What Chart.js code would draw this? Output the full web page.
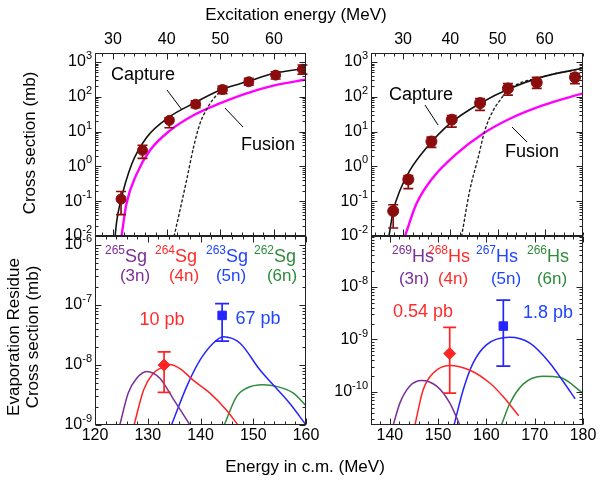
<!DOCTYPE html>
<html>
<head>
<meta charset="utf-8">
<script src="https://cdn.jsdelivr.net/npm/chart.js@4/dist/chart.umd.min.js"></script>
<style>
html,body{margin:0;padding:0;background:#fff;}
#wrap{position:relative;width:601px;height:480px;overflow:hidden;background:#fff;}
#wrap canvas{position:absolute;left:0;top:0;}
</style>
</head>
<body>
<div id="wrap">
<canvas id="cTL" width="601" height="480"></canvas>
<canvas id="cTR" width="601" height="480"></canvas>
<canvas id="cBL" width="601" height="480"></canvas>
<canvas id="cBR" width="601" height="480"></canvas>
</div>
<script>
// ================= DATA =================
// --- Top-left panel (Sg system): excitation energy (MeV) vs cross section (mb)
const sgExpEx    = [31.5, 35.5, 40.5, 45.4, 50.4, 55.3, 60.3, 65.3];
const sgExpSigma = [0.115, 2.9, 21, 61, 162, 270, 420, 620];
const sgExpLow   = [0.041, 1.7, 12.9, 49, 124, 218, 325, 450];
const sgExpHigh  = [0.19, 4.0, 25, 76, 204, 340, 525, 820];

const sgCaptureEx    = [30.4, 30.7, 31.3, 33.5, 36.3, 40.5, 45.0, 49.9, 54.9, 59.9, 66.1];
const sgCaptureSigma = [0.01, 0.027, 0.083, 1.17, 6.9, 26.3, 64.6, 155, 269, 468, 661];
const sgFusionEx     = [31.6, 32.5, 34.4, 36.9, 40.6, 45.0, 49.9, 54.9, 59.9, 66.1];
const sgFusionSigma  = [0.01, 0.083, 0.60, 2.9, 10.7, 29.5, 64.6, 126, 209, 316];
const sgDottedEx     = [41.4, 43.7, 45.0, 46.2, 47.7, 49.3, 50.4];
const sgDottedSigma  = [0.01, 0.39, 3.5, 17, 51, 112, 158];

// --- Top-right panel (Hs system)
const hsExpEx    = [27.9, 31.1, 36.0, 40.3, 46.3, 52.2, 58.3, 66.4];
const hsExpSigma = [0.052, 0.42, 5.2, 22, 66, 174, 257, 363];
const hsExpLow   = [0.017, 0.23, 3.5, 13.5, 41, 112, 174, 240];
const hsExpHigh  = [0.079, 0.54, 6.9, 29, 89, 240, 363, 468];

const hsCaptureEx    = [27.0, 27.9, 29.3, 31.4, 35.0, 39.9, 46.3, 52.6, 59.7, 68.1];
const hsCaptureSigma = [0.01, 0.052, 0.20, 0.76, 3.5, 17, 65, 174, 380, 661];
const hsFusionEx     = [30.4, 32.8, 36.4, 41.3, 46.9, 52.6, 59.7, 68.1];
const hsFusionSigma  = [0.01, 0.083, 0.49, 2.3, 8.7, 23.4, 57.5, 126];
const hsDottedEx     = [42.4, 44.1, 45.9, 47.3, 49.1, 50.5, 52.2, 59.7, 68.1];
const hsDottedSigma  = [0.01, 0.20, 1.8, 10.7, 41, 79, 155, 380, 661];

// --- Bottom-left panel: evaporation residue cross sections (mb) vs Ecm (MeV)
const sg3nE = [124.7, 126.3, 127.9, 129.8, 132.3, 134.8, 138.0];
const sg3nSigma = [1e-9, 3.4e-9, 6.0e-9, 7.8e-9, 6.0e-9, 2.75e-9, 1e-9];
const sg4nE = [127.4, 129.2, 131.0, 132.9, 134.2, 136.1, 138.6, 141.8, 144.9, 147.1];
const sg4nSigma = [1e-9, 3.8e-9, 7.2e-9, 9.3e-9, 1.02e-8, 8.7e-9, 5.6e-9, 3.4e-9, 1.78e-9, 1e-9];
const sg5nE = [134.5, 137.4, 139.9, 142.4, 144.3, 147.5, 151.25, 156.9, 160];
const sg5nSigma = [1e-9, 4.4e-9, 1.2e-8, 2.3e-8, 2.95e-8, 2.3e-8, 8.3e-9, 2.3e-9, 1e-9];
const sg6nE = [144.5, 146.8, 148.7, 151.9, 154.4, 157.6, 160];
const sg6nSigma = [1e-9, 2.95e-9, 4.1e-9, 4.7e-9, 4.4e-9, 3.4e-9, 2.1e-9];
const sg4nExpE = [133.1], sg4nExpSigma = [1.0e-8], sg4nExpLow = [3.5e-9], sg4nExpHigh = [1.66e-8];
const sg5nExpE = [144.1], sg5nExpSigma = [6.7e-8], sg5nExpLow = [2.5e-8], sg5nExpHigh = [1.05e-7];

// --- Bottom-right panel
const hs3nE = [140.7, 142.1, 144.1, 146.6, 149.7, 152.4, 154.5];
const hs3nSigma = [2.35e-11, 6.2e-11, 1.29e-10, 1.66e-10, 1.29e-10, 6.2e-11, 2.35e-11];
const hs4nE = [145.2, 146.9, 149.0, 152.4, 156.6, 160.7, 163.5, 166.6];
const hs4nSigma = [2.35e-11, 1.1e-10, 2.3e-10, 3.2e-10, 2.6e-10, 1.48e-10, 8.1e-11, 3.6e-11];
const hs5nE = [153.3, 155.2, 157.2, 160.0, 164.8, 169.0, 173.2, 175.9, 178.3];
const hs5nSigma = [2.35e-11, 1.1e-10, 3.5e-10, 7.9e-10, 1.1e-9, 8.5e-10, 3.5e-10, 1.58e-10, 7.6e-11];
const hs6nE = [163.1, 164.8, 167.6, 171.7, 175.2, 180];
const hs6nSigma = [2.35e-11, 5.9e-11, 1.41e-10, 2.0e-10, 1.9e-10, 9.5e-11];
const hs4nExpE = [152.4], hs4nExpSigma = [5.4e-10], hs4nExpLow = [9.5e-11], hs4nExpHigh = [1.7e-9];
const hs5nExpE = [163.5], hs5nExpSigma = [1.8e-9], hs5nExpLow = [3.1e-10], hs5nExpHigh = [5.6e-9];

// --- Tick labels
const exTicks = [30, 40, 50, 60];
const sgEcmTicks = [120, 130, 140, 150, 160];
const hsEcmTicks = [140, 150, 160, 170, 180];
const topDecades = [3, 2, 1, 0, -1, -2];
const sgErDecades = [-6, -7, -8, -9];
const hsErDecades = [-8, -9, -10];

// ================= DRAWING =================
const FONT = '"Liberation Sans", Arial, Helvetica, sans-serif';
const C = {
  pts: '#8a0c0c', magenta: '#ff00ff', black: '#111',
  purple: '#7a2f96', red: '#ff2424', blue: '#2424ff', green: '#2e8b3c',
  redTxt: '#ff2a2a', blueTxt: '#1f45ff'
};

function xy(xs, ys) { return xs.map((x, i) => ({x: x, y: ys[i]})); }
function curve(xs, ys, color, width, dash) {
  return {data: xy(xs, ys), borderColor: color, borderWidth: width, borderDash: dash || [],
    pointRadius: 0, showLine: true, fill: false, cubicInterpolationMode: 'monotone'};
}
function expPts(xs, ys, lo, hi, color, style, r, cap) {
  return {data: xy(xs, ys), showLine: false, pointRadius: r, pointStyle: style,
    backgroundColor: color, borderColor: color, borderWidth: 1,
    errLow: lo, errHigh: hi, errColor: color, errCap: cap};
}

function drawPow(ctx, exp, xr, yc) {
  ctx.save();
  ctx.fillStyle = '#000';
  ctx.textBaseline = 'middle';
  ctx.textAlign = 'left';
  ctx.font = '16px ' + FONT;
  const w1 = ctx.measureText('10').width;
  ctx.font = '11px ' + FONT;
  const es = String(exp);
  const w2 = ctx.measureText(es).width;
  const x0 = xr - w1 - w2;
  ctx.font = '16px ' + FONT;
  ctx.fillText('10', x0, yc);
  ctx.font = '11px ' + FONT;
  ctx.fillText(es, x0 + w1, yc - 6);
  ctx.restore();
}
function drawIso(ctx, mass, sym, cx, cy, color) {
  ctx.save();
  ctx.fillStyle = color;
  ctx.textBaseline = 'middle';
  ctx.textAlign = 'left';
  ctx.font = '12px ' + FONT;
  const wm = ctx.measureText(mass).width;
  ctx.font = '18px ' + FONT;
  const ws = ctx.measureText(sym).width;
  const x0 = cx - (wm + ws) / 2;
  ctx.font = '12px ' + FONT;
  ctx.fillText(mass, x0, cy - 6);
  ctx.font = '18px ' + FONT;
  ctx.fillText(sym, x0 + wm, cy);
  ctx.restore();
}
function text(ctx, s, x, y, color, size, rot) {
  ctx.save();
  ctx.fillStyle = color;
  ctx.font = size + 'px ' + FONT;
  ctx.textAlign = 'center';
  ctx.textBaseline = 'middle';
  ctx.translate(x, y);
  if (rot) ctx.rotate(rot);
  ctx.fillText(s, 0, 0);
  ctx.restore();
}
function seg(ctx, x1, y1, x2, y2) {
  ctx.save();
  ctx.strokeStyle = '#000'; ctx.lineWidth = 1;
  ctx.beginPath(); ctx.moveTo(x1, y1); ctx.lineTo(x2, y2); ctx.stroke();
  ctx.restore();
}

const errorBarPlugin = {
  id: 'errbars',
  beforeDatasetDraw(chart, args) {
    const ds = chart.data.datasets[args.index];
    if (!ds.errLow) return;
    const ctx = chart.ctx, x = chart.scales.x, y = chart.scales.y;
    const cap = ds.errCap;
    ctx.save();
    ctx.strokeStyle = ds.errColor; ctx.lineWidth = 1.7;
    ds.data.forEach((p, i) => {
      const px = x.getPixelForValue(p.x);
      const y1 = y.getPixelForValue(ds.errHigh[i]);
      const y2 = y.getPixelForValue(ds.errLow[i]);
      ctx.beginPath();
      ctx.moveTo(px, y1); ctx.lineTo(px, y2);
      ctx.moveTo(px - cap / 2, y1); ctx.lineTo(px + cap / 2, y1);
      ctx.moveTo(px - cap / 2, y2); ctx.lineTo(px + cap / 2, y2);
      ctx.stroke();
    });
    ctx.restore();
  }
};

function makeDecor(cfg) {
  return {
    id: 'decor',
    afterDraw(chart) {
      const ctx = chart.ctx, a = chart.chartArea;
      const x = chart.scales.x, y = chart.scales.y;
      const L = Math.round(a.left) + 0.5, R = Math.round(a.right) - 0.5;
      const T = Math.round(a.top) + 0.5, B = Math.round(a.bottom) - 0.5;
      ctx.save();
      ctx.strokeStyle = '#222'; ctx.lineWidth = 1;
      ctx.beginPath();
      for (let v = Math.ceil(x.min / cfg.xMinor) * cfg.xMinor; v <= x.max + 1e-9; v += cfg.xMinor) {
        const px = Math.round(x.getPixelForValue(v)) + 0.5;
        const major = Math.abs(v / cfg.xMajor - Math.round(v / cfg.xMajor)) < 1e-6;
        const len = major ? 6 : 3;
        ctx.moveTo(px, T); ctx.lineTo(px, T + len);
        ctx.moveTo(px, B); ctx.lineTo(px, B - len);
      }
      const lmin = Math.floor(Math.log10(y.min)), lmax = Math.ceil(Math.log10(y.max));
      for (let d = lmin; d <= lmax; d++) {
        for (let m = 1; m <= 9; m++) {
          const v = m * Math.pow(10, d);
          if (v < y.min * 0.999 || v > y.max * 1.001) continue;
          const py = Math.round(y.getPixelForValue(v)) + 0.5;
          const len = m === 1 ? 6 : 3;
          ctx.moveTo(L, py); ctx.lineTo(L + len, py);
          ctx.moveTo(R, py); ctx.lineTo(R - len, py);
        }
      }
      ctx.stroke();
      ctx.strokeRect(L, T, R - L, B - T);
      ctx.restore();
      // x tick labels
      cfg.xTicks.forEach(v => text(ctx, String(v), x.getPixelForValue(v), cfg.xLabelY, '#000', 16));
      // y tick labels
      cfg.yDecades.forEach(d => {
        const py = y.getPixelForValue(Math.pow(10, d));
        if (py < a.top + 5 || py > a.bottom + 1) return;
        drawPow(ctx, d, a.left - 3, py);
      });
      if (cfg.extra) cfg.extra(ctx, chart);
    }
  };
}

function makePanel(id, box, xr, yr, datasets, decorCfg) {
  return new Chart(document.getElementById(id), {
    type: 'scatter',
    data: {datasets: datasets},
    options: {
      responsive: false, animation: false, devicePixelRatio: 1,
      layout: {padding: {left: box[0], top: box[1], right: 601 - box[2], bottom: 480 - box[3]}},
      plugins: {legend: {display: false}, tooltip: {enabled: false}, title: {display: false}},
      scales: {
        x: {type: 'linear', display: false, min: xr[0], max: xr[1]},
        y: {type: 'logarithmic', display: false, min: yr[0], max: yr[1]}
      },
      elements: {line: {borderCapStyle: 'round'}}
    },
    plugins: [errorBarPlugin, makeDecor(decorCfg)]
  });
}

// ---------- Top-left ----------
makePanel('cTL', [95, 53, 306, 236], [26.65, 65.96], [0.01, 1815], [
  expPts(sgExpEx, sgExpSigma, sgExpLow, sgExpHigh, C.pts, 'circle', 5, 10),
  curve(sgCaptureEx, sgCaptureSigma, C.black, 1.6),
  curve(sgDottedEx, sgDottedSigma, '#222', 1.4, [2, 3]),
  curve(sgFusionEx, sgFusionSigma, C.magenta, 2.4)
], {
  xMajor: 10, xMinor: 2, xTicks: exTicks, xLabelY: 40, yDecades: topDecades,
  extra(ctx) {
    text(ctx, 'Excitation energy (MeV)', 296, 15, '#000', 17);
    text(ctx, 'Energy in c.m. (MeV)', 305, 467, '#000', 17);
    text(ctx, 'Cross section (mb)', 30, 143, '#000', 17, -Math.PI / 2);
    text(ctx, 'Evaporation Residue', 14, 337, '#000', 17, -Math.PI / 2);
    text(ctx, 'Cross section (mb)', 33, 337, '#000', 17, -Math.PI / 2);
    text(ctx, 'Capture', 143, 75, '#000', 18);
    seg(ctx, 167, 90, 182, 110);
    text(ctx, 'Fusion', 268, 145, '#000', 18);
    seg(ctx, 225, 108, 243, 127);
  }
});

// ---------- Top-right ----------
makePanel('cTR', [371, 53, 583, 236], [23.2, 68.1], [0.01, 1815], [
  expPts(hsExpEx, hsExpSigma, hsExpLow, hsExpHigh, C.pts, 'circle', 5.5, 10),
  curve(hsCaptureEx, hsCaptureSigma, C.black, 1.6),
  curve(hsDottedEx, hsDottedSigma, '#222', 1.4, [2, 3]),
  curve(hsFusionEx, hsFusionSigma, C.magenta, 2.4)
], {
  xMajor: 10, xMinor: 2, xTicks: exTicks, xLabelY: 40, yDecades: topDecades,
  extra(ctx) {
    text(ctx, 'Capture', 421, 95, '#000', 18);
    seg(ctx, 425, 105, 438, 125);
    text(ctx, 'Fusion', 532, 152, '#000', 18);
    seg(ctx, 512, 127, 527, 142);
  }
});

// ---------- Bottom-left ----------
makePanel('cBL', [95, 236, 306, 425], [120, 160], [1e-9, 1.41e-6], [
  expPts(sg5nExpE, sg5nExpSigma, sg5nExpLow, sg5nExpHigh, C.blue, 'rect', 6, 14),
  expPts(sg4nExpE, sg4nExpSigma, sg4nExpLow, sg4nExpHigh, C.red, 'rectRot', 6, 13),
  curve(sg3nE, sg3nSigma, C.purple, 1.5),
  curve(sg4nE, sg4nSigma, C.red, 1.5),
  curve(sg5nE, sg5nSigma, C.blue, 1.5),
  curve(sg6nE, sg6nSigma, C.green, 1.5)
], {
  xMajor: 10, xMinor: 2, xTicks: sgEcmTicks, xLabelY: 436, yDecades: sgErDecades,
  extra(ctx) {
    drawIso(ctx, '265', 'Sg', 126, 257, C.purple);
    drawIso(ctx, '264', 'Sg', 176, 257, C.redTxt);
    drawIso(ctx, '263', 'Sg', 227, 257, C.blueTxt);
    drawIso(ctx, '262', 'Sg', 275, 257, C.green);
    text(ctx, '(3n)', 135, 276, C.purple, 17);
    text(ctx, '(4n)', 184, 276, C.redTxt, 17);
    text(ctx, '(5n)', 231, 276, C.blueTxt, 17);
    text(ctx, '(6n)', 282, 276, C.green, 17);
    text(ctx, '10 pb', 162, 320, C.redTxt, 18);
    text(ctx, '67 pb', 258, 319, C.blueTxt, 18);
  }
});

// ---------- Bottom-right ----------
makePanel('cBR', [371, 236, 583, 425], [136.1, 180], [2.35e-11, 9.35e-8], [
  expPts(hs5nExpE, hs5nExpSigma, hs5nExpLow, hs5nExpHigh, C.blue, 'rect', 6, 14),
  expPts(hs4nExpE, hs4nExpSigma, hs4nExpLow, hs4nExpHigh, C.red, 'rectRot', 6, 13),
  curve(hs3nE, hs3nSigma, C.purple, 1.5),
  curve(hs4nE, hs4nSigma, C.red, 1.5),
  curve(hs5nE, hs5nSigma, C.blue, 1.5),
  curve(hs6nE, hs6nSigma, C.green, 1.5)
], {
  xMajor: 10, xMinor: 2, xTicks: hsEcmTicks, xLabelY: 436, yDecades: hsErDecades,
  extra(ctx) {
    drawIso(ctx, '269', 'Hs', 413, 257, C.purple);
    drawIso(ctx, '268', 'Hs', 449, 257, C.redTxt);
    drawIso(ctx, '267', 'Hs', 497, 257, C.blueTxt);
    drawIso(ctx, '266', 'Hs', 548, 257, C.green);
    text(ctx, '(3n)', 414, 279, C.purple, 17);
    text(ctx, '(4n)', 453, 279, C.redTxt, 17);
    text(ctx, '(5n)', 506, 279, C.blueTxt, 17);
    text(ctx, '(6n)', 552, 279, C.green, 17);
    text(ctx, '0.54 pb', 423, 312, C.redTxt, 18);
    text(ctx, '1.8 pb', 548, 313, C.blueTxt, 18);
  }
});
</script>
</body>
</html>
